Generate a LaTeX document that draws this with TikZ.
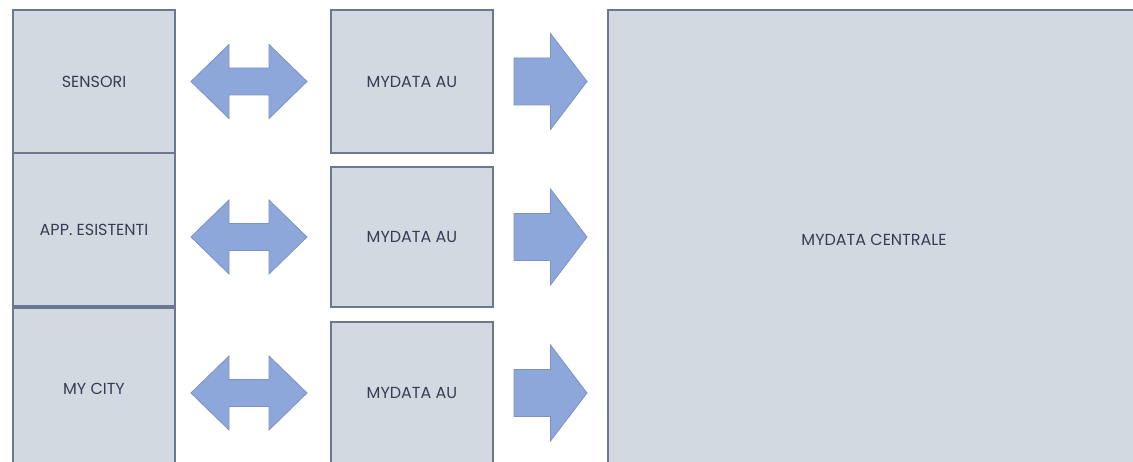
\documentclass[tikz,border=0pt]{standalone}
\usepackage{fontspec}
\setmainfont{Poppins}
\usetikzlibrary{calc}
\definecolor{boxfill}{HTML}{D3D9E1}
\definecolor{boxline}{HTML}{6A7892}
\definecolor{arrfill}{HTML}{8DA7DB}
\definecolor{arrline}{HTML}{7C92C6}
\definecolor{txt}{HTML}{363D54}
\tikzset{every node/.style={inner sep=0pt, font=\fontsize{16}{17}\selectfont, text=txt},
         block/.style={draw=boxline, fill=boxfill, line width=1.6pt},
         dblarrow/.pic={\draw[arrline,fill=arrfill,line width=0.8pt]
           (-58,0) -- (-20,-37) -- (-20,-13.5) -- (20,-13.5) -- (20,-37) -- (58,0)
           -- (20,37) -- (20,13.5) -- (-20,13.5) -- (-20,37) -- cycle;},
         rarrow/.pic={\draw[arrline,fill=arrfill,line width=0.8pt]
           (-36.5,-23.5) -- (0,-23.5) -- (0,-48) -- (36.5,0) -- (0,48) -- (0,23.5)
           -- (-36.5,23.5) -- cycle;}}

\begin{document}
\begin{tikzpicture}[x=1pt,y=-1pt]
  \clip (0,0) rectangle (1133,462);
  \fill[white] (0,0) rectangle (1133,462);
  % sources
  \begin{scope}[every node/.append style={block, minimum width=162pt}]
   \node[minimum height=143pt] (sens) at (94,81.5)  {SENSORI};
   \node[minimum height=153pt] (app)  at (94,229.5) {APP. ESISTENTI};
   \node[minimum height=162pt] (city) at (94,389)   {MY CITY};
  \end{scope}
  % local units
  \begin{scope}[every node/.append style={block, minimum width=162pt}]
   \node[minimum height=143pt] (au1) at (412,81.5) {MYDATA AU};
   \node[minimum height=140pt] (au2) at (412,237)  {MYDATA AU};
   \node[minimum height=142pt] (au3) at (412,393)  {MYDATA AU};
  \end{scope}
  \node[block, minimum width=532pt, minimum height=460pt] (cen) at (874,240) {MYDATA CENTRALE};
  % arrows
  \foreach \s/\a in {sens/au1,app/au2,city/au3}{
   \coordinate (m) at ($(\s.east)!0.5!(\a.west)$);
   \pic[xshift=-4pt] at (m |- \a) {dblarrow};
   \coordinate (n) at ($(\a.east)!0.5!(cen.west)$);
   \pic at (n |- \a) {rarrow};
  }
 \end{tikzpicture}
\end{document}
